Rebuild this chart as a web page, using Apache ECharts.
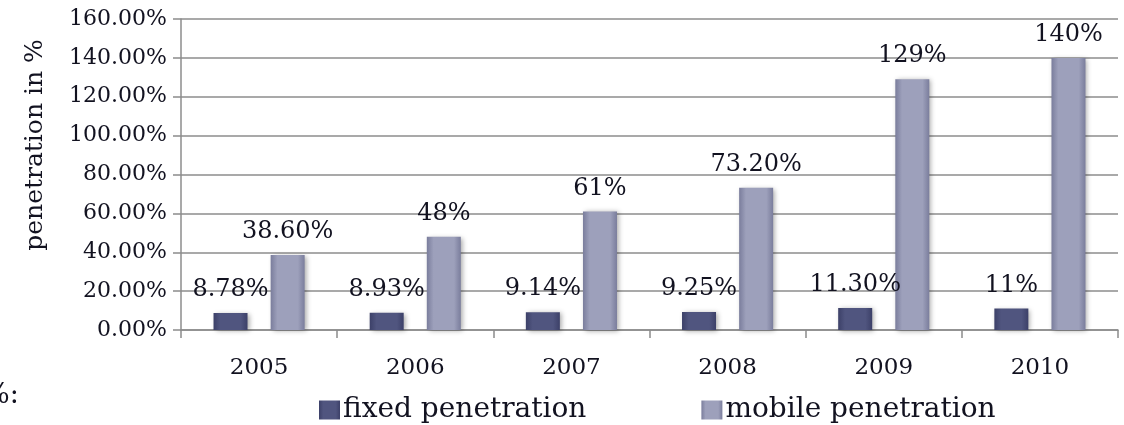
<!DOCTYPE html>
<html>
<head>
<meta charset="utf-8">
<script src="https://cdn.jsdelivr.net/npm/echarts@6/dist/echarts.min.js"></script>
<style>
  body { margin: 0; background: #fff; }
  #e1 { width: 1124px; height: 425px; }
</style>
</head>
<body>
<div id="e1"></div>
<script>
  // years on the x axis
  var years = ['2005', '2006', '2007', '2008', '2009', '2010'];
  // fixed penetration in %
  var fixedVals = [8.78, 8.93, 9.14, 9.25, 11.30, 11];
  var fixedLabels = ['8.78%', '8.93%', '9.14%', '9.25%', '11.30%', '11%'];
  // mobile penetration in %
  var mobileVals = [38.60, 48, 61, 73.20, 129, 140];
  var mobileLabels = ['38.60%', '48%', '61%', '73.20%', '129%', '140%'];

  var serif = '"DejaVu Serif", "Liberation Serif", serif';
  var txt = '#121220';

  var myChart = echarts.init(document.getElementById('e1'));

  function barColor(c1, c2) {
    return new echarts.graphic.LinearGradient(0, 0, 1, 0, [
      {offset: 0, color: c1},
      {offset: 0.2, color: c2},
      {offset: 0.8, color: c2},
      {offset: 1, color: c1}
    ]);
  }

  var option = {
    backgroundColor: '#fff',
    animation: false,
    grid: {
      left: 181,
      right: 6,
      top: 19,
      bottom: 95
    },
    legend: {
      top: 396,
      left: 319,
      padding: 0,
      itemGap: 115,
      itemWidth: 21,
      itemHeight: 19,
      icon: 'rect',
      textStyle: {
        fontFamily: serif,
        fontSize: 28,
        color: txt,
        padding: [0, 0, 0, -2]
      },
      data: ['fixed penetration', 'mobile penetration']
    },
    graphic: [{
      type: 'text',
      left: -16,
      top: 382,
      style: {
        text: '%:',
        font: '27px ' + serif,
        fill: txt
      }
    }, {
      // y axis title
      type: 'text',
      x: 35,
      y: 145,
      rotation: Math.PI / 2,
      style: {
        text: 'penetration in %',
        font: '25px ' + serif,
        fill: txt,
        align: 'center',
        verticalAlign: 'middle'
      }
    }],
    xAxis: {
      type: 'category',
      data: years,
      axisLine: {
        show: true,
        lineStyle: {color: '#8c8c8c', width: 1.5}
      },
      axisTick: {
        show: true,
        length: 8,
        lineStyle: {color: '#8c8c8c', width: 1.5}
      },
      axisLabel: {
        margin: 27,
        fontFamily: serif,
        fontSize: 23,
        color: txt
      }
    },
    yAxis: {
      type: 'value',
      min: 0,
      max: 160,
      interval: 20,
      axisLine: {
        show: true,
        lineStyle: {color: '#8c8c8c', width: 1.5}
      },
      axisTick: {
        show: true,
        length: 8,
        lineStyle: {color: '#8c8c8c', width: 1.5}
      },
      axisLabel: {
        margin: 14,
        fontFamily: serif,
        fontSize: 22,
        color: txt,
        formatter: function (v) { return v.toFixed(2) + '%'; }
      },
      splitLine: {
        show: true,
        lineStyle: {color: '#8c8c8c', width: 1.5}
      }
    },
    series: [
      {
        name: 'fixed penetration',
        type: 'bar',
        data: fixedVals,
        barWidth: 34,
        barGap: '68%',
        itemStyle: {
          color: barColor('#3c4068', '#50557f'),
          shadowColor: 'rgba(0,0,0,0.35)',
          shadowBlur: 5,
          shadowOffsetX: 2,
          shadowOffsetY: 1
        },
        label: {
          show: true,
          position: 'top',
          distance: 11,
          fontFamily: serif,
          fontSize: 24,
          color: txt,
          formatter: function (p) { return fixedLabels[p.dataIndex]; }
        }
      },
      {
        name: 'mobile penetration',
        type: 'bar',
        data: mobileVals,
        barWidth: 34,
        itemStyle: {
          color: barColor('#7a7d9c', '#9da0bb'),
          shadowColor: 'rgba(0,0,0,0.35)',
          shadowBlur: 5,
          shadowOffsetX: 2,
          shadowOffsetY: 1
        },
        label: {
          show: true,
          position: 'top',
          distance: 11,
          fontFamily: serif,
          fontSize: 24,
          color: txt,
          formatter: function (p) { return mobileLabels[p.dataIndex]; }
        }
      }
    ]
  };
  myChart.setOption(option);
</script>
</body>
</html>
